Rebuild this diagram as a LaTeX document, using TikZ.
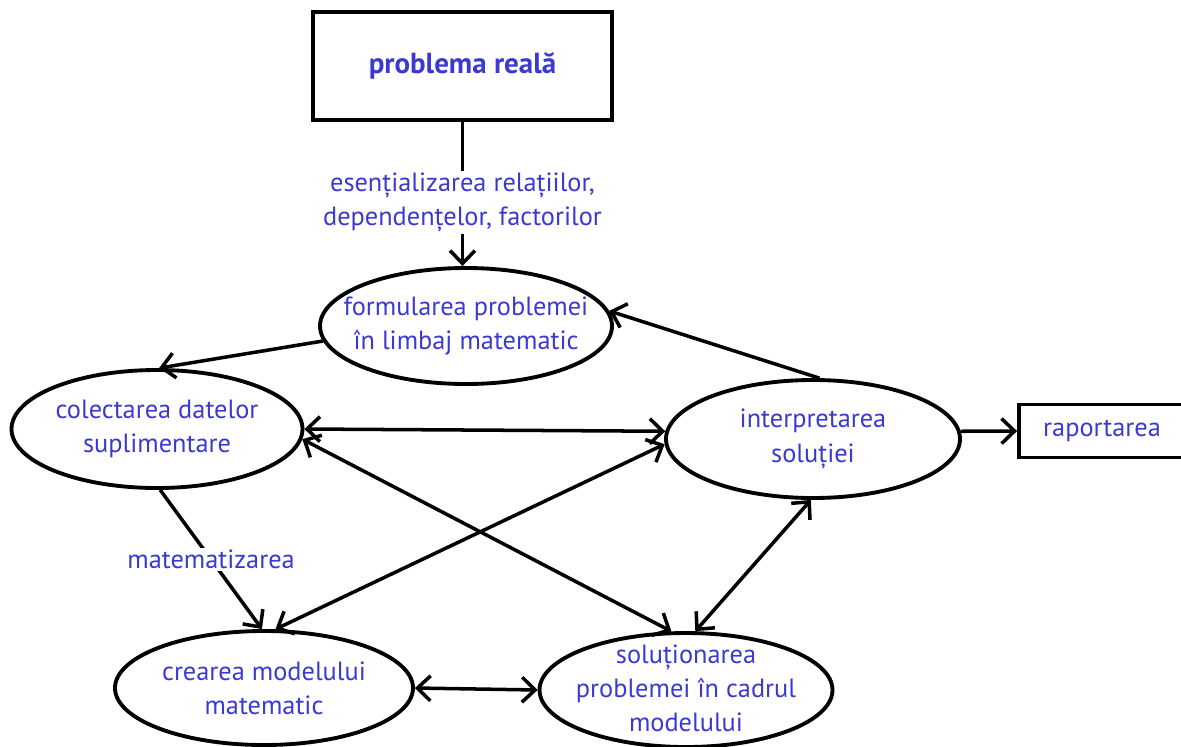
\documentclass[tikz,border=0pt]{standalone}
\usepackage{fontspec}
\setmainfont{PT Sans}
\usetikzlibrary{shapes.geometric,arrows.meta}

\definecolor{txtblue}{RGB}{58,58,210}

\tikzset{
  txt/.style={text=txtblue, font=\fontsize{15}{19.5}\selectfont, align=center},
  elli/.style={ellipse, draw, line width=2.2pt, inner sep=0pt},
  box/.style={rectangle, draw, line width=2.2pt, inner sep=0pt},
  arr/.style={-{Straight Barb[length=2.6mm,width=5mm]}, line width=2pt},
  dbl/.style={{Straight Barb[length=2.6mm,width=5mm]}-{Straight Barb[length=2.6mm,width=5mm]}, line width=2pt},
  lbl/.style={txt, fill=white, inner sep=1pt}
}

\begin{document}
\begin{tikzpicture}
\useasboundingbox (0,0) rectangle (23.62,-14.92);

% Top problem
\node[box, minimum width=5.98cm, minimum height=2.16cm, txt, font=\bfseries\fontsize{16.5}{20}\selectfont] (real) at (9.25,-1.32) {problema reală};

% Ellipses
\node[elli, minimum width=5.84cm, minimum height=2.32cm,
  label={[txt]center:{formularea problemei\\în limbaj matematic}}] (form) at (9.32,-6.52) {};
\node[elli, minimum width=5.82cm, minimum height=2.36cm,
  label={[txt]center:{colectarea datelor\\suplimentare}}] (colect) at (3.14,-8.58) {};
\node[elli, minimum width=5.88cm, minimum height=2.36cm,
  label={[txt]center:{interpretarea\\soluției}}] (interp) at (16.26,-8.78) {};
\node[elli, minimum width=5.96cm, minimum height=2.28cm,
  label={[txt]center:{crearea modelului\\matematic}}] (model) at (5.28,-13.76) {};
\node[elli, minimum width=5.86cm, minimum height=2.28cm,
  label={[txt, yshift=1pt]center:{soluționarea\\problemei în cadrul\\modelului}}] (solve) at (13.72,-13.80) {};

% Report box
\node[box, minimum width=3.4cm, minimum height=1.06cm] (report) at (22.08,-8.62) {};
\node[txt, anchor=west] (reporttxt) at (20.74,-8.62) {raportarea};

% Arrows
\draw[arr] (real.south) -- node[lbl, pos=0.56] {esențializarea relațiilor,\\dependențelor, factorilor} (real.south |- form.north);
\draw[arr] (form.186) -- (colect.88);
\draw[arr] (interp.84) -- (form.6);
\draw[dbl] (colect.east) -- (interp.177);
\draw[dbl] (colect.-4) -- (solve.104);
\draw[dbl] (interp.182) -- (model.79);
\draw[arr] (colect.-87) -- node[lbl] {matematizarea} (model.92);
\draw[dbl] (model.east) -- (solve.west);
\draw[dbl] (solve.81) -- (interp.-92);
\draw[arr] (interp.3) -- (report.west);

\end{tikzpicture}
\end{document}
